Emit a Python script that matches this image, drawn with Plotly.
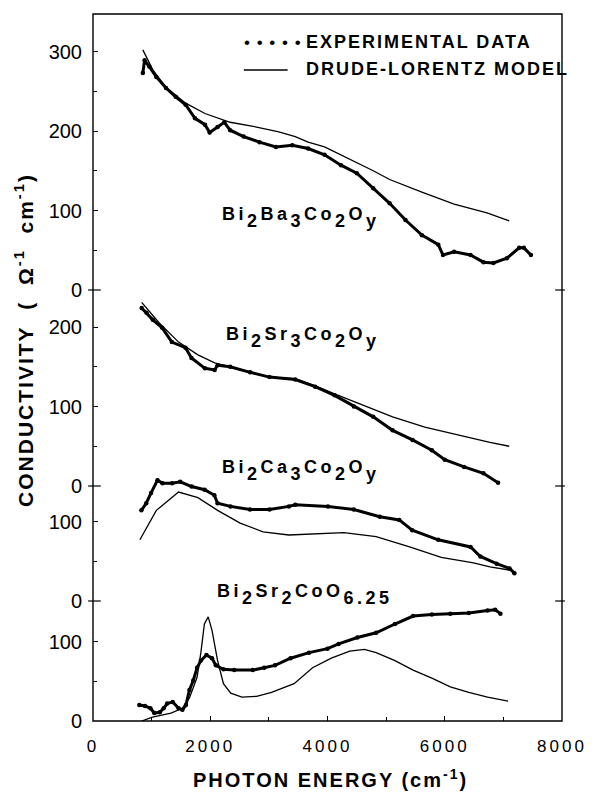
import plotly.graph_objects as go

# ---------------- data ----------------
# Panel 1: Bi2Ba3Co2Oy
ba_exp_x = [850, 880, 960, 1080, 1245, 1410, 1580, 1740, 1910, 1990, 2125, 2240, 2340, 2570, 2840, 3120,
            3400, 3670, 3950, 4230, 4500, 4780, 5060, 5330, 5610, 5890, 5970, 6160, 6440, 6660, 6830,
            7060, 7270, 7350, 7470]
ba_exp_y = [273, 289, 281, 268, 254, 243, 233, 216, 208, 198, 205, 211, 201, 193, 186, 180,
            182, 178, 170, 157, 147, 128, 109, 88, 69, 57, 44, 48, 44, 35, 34,
            40, 53, 53, 44]
ba_mod_x = [850, 1020, 1245, 1580, 1910, 2340, 2790, 3170, 3450, 3670, 3950, 4230, 4500, 4780, 5060,
            5330, 5610, 6160, 6720, 7100]
ba_mod_y = [302, 277, 255, 235, 222, 211, 205, 199, 193, 186, 180, 170, 160, 150, 139,
            131, 123, 108, 97, 87]

# Panel 2: Bi2Sr3Co2Oy
sr3_exp_x = [830, 913, 1020, 1180, 1345, 1577, 1680, 1909, 2075, 2125, 2340, 2680, 3010, 3450, 3790,
             4120, 4450, 4780, 5110, 5450, 5780, 6000, 6330, 6660, 6910]
sr3_exp_y = [224, 218, 209, 199, 181, 174, 161, 148, 146, 152, 150, 143, 137, 134, 125,
             114, 100, 87, 70, 58, 45, 33, 24, 16, 4]
sr3_mod_x = [830, 1130, 1460, 1790, 2075, 2340, 2680, 3010, 3450, 3790, 4120, 4570, 5110, 5660,
             6220, 6770, 7100]
sr3_mod_y = [231, 205, 181, 165, 155, 150, 143, 137, 135, 126, 116, 103, 87, 74,
             64, 55, 50]

# Panel 3: Bi2Ca3Co2Oy
ca_exp_x = [825, 908, 991, 1100, 1184, 1350, 1489, 1682, 1904, 2070, 2125, 2346, 2678, 3010, 3342,
            3450, 4007, 4449, 4892, 5224, 5445, 5888, 6441, 6607, 6884, 7105, 7188]
ca_exp_y = [114, 123, 136, 152, 148, 148, 150, 144, 140, 133, 123, 119, 115, 115, 119,
            121, 119, 115, 106, 102, 89, 77, 68, 56, 47, 41, 35]
ca_mod_x = [800, 1080, 1460, 1790, 2125, 2510, 2900, 3340, 4280, 4830, 5400, 5940, 6490, 6770, 7100]
ca_mod_y = [77, 114, 137, 130, 114, 98, 87, 83, 86, 81, 68, 55, 48, 43, 39]

# Panel 4: Bi2Sr2CoO6.25
sr2_exp_x = [790, 887, 980, 1045, 1140, 1205, 1265, 1360, 1460, 1525, 1585, 1645, 1710, 1775, 1840,
             1935, 2030, 2095, 2225, 2410, 2725, 2920, 3105, 3370, 3685, 4000, 4190, 4510, 4830,
             5150, 5460, 5780, 6095, 6410, 6730, 6860, 6950]
sr2_exp_y = [20, 19, 16, 10, 11, 16, 22, 24, 16, 14, 20, 39, 51, 67, 76,
             83, 79, 70, 65, 64, 64, 67, 70, 79, 86, 91, 97, 105, 111,
             122, 132, 134, 135, 136, 139, 140, 135]
sr2_mod_x = [830, 1015, 1330, 1525, 1645, 1775, 1840, 1900, 1965, 2030, 2125, 2225, 2350, 2540, 2790,
             3045, 3430, 3745, 4065, 4380, 4630, 4830, 5150, 5460, 5780, 6095, 6410, 6730, 7080]
sr2_mod_y = [0, 5, 10, 16, 29, 55, 86, 122, 131, 114, 76, 47, 35, 30, 31,
             36, 47, 67, 79, 88, 90, 86, 76, 64, 54, 43, 36, 30, 25]

# compound labels: list of (text, is_subscript)
label_ba = [("Bi", 0), ("2", 1), ("Ba", 0), ("3", 1), ("Co", 0), ("2", 1), ("O", 0), ("y", 1)]
label_sr3 = [("Bi", 0), ("2", 1), ("Sr", 0), ("3", 1), ("Co", 0), ("2", 1), ("O", 0), ("y", 1)]
label_ca = [("Bi", 0), ("2", 1), ("Ca", 0), ("3", 1), ("Co", 0), ("2", 1), ("O", 0), ("y", 1)]
label_sr2 = [("Bi", 0), ("2", 1), ("Sr", 0), ("2", 1), ("CoO", 0), ("6.25", 1)]

x_ticks = [0, 2000, 4000, 6000, 8000]
x_minor = [1000, 3000, 5000, 7000]

legend_exp = "EXPERIMENTAL DATA"
legend_mod = "DRUDE-LORENTZ MODEL"
x_title = "PHOTON ENERGY (cm<sup>-1</sup>)"
y_title = "CONDUCTIVITY&nbsp;&nbsp;( &nbsp;Ω<sup>-1</sup>&nbsp;&nbsp;cm<sup>-1</sup>)"

# ---------------- layout geometry ----------------
W, H = 599, 795
ML, MR, MT, MB = 93, 24, 14, 74
PW, PH = W - ML - MR, H - MT - MB
PX_PER_UNIT = 0.795
# (top_px, zero_px) of each panel relative to top of plot area
panels = [
    dict(name="y", top=0, zero=276, ticks=[0, 100, 200, 300], minor=[50, 150, 250],
         ex=ba_exp_x, ey=ba_exp_y, mx=ba_mod_x, my=ba_mod_y),
    dict(name="y2", top=276, zero=472, ticks=[0, 100, 200], minor=[50, 150],
         ex=sr3_exp_x, ey=sr3_exp_y, mx=sr3_mod_x, my=sr3_mod_y),
    dict(name="y3", top=452, zero=587, ticks=[0, 100], minor=[50],
         ex=ca_exp_x, ey=ca_exp_y, mx=ca_mod_x, my=ca_mod_y),
    dict(name="y4", top=587, zero=707, ticks=[0, 100], minor=[50],
         ex=sr2_exp_x, ey=sr2_exp_y, mx=sr2_mod_x, my=sr2_mod_y),
]

FONT = "Liberation Sans"
fig = go.Figure()

for p in panels:
    fig.add_trace(go.Scatter(x=p["ex"], y=p["ey"], xaxis="x", yaxis=p["name"], mode="lines+markers",
                             line=dict(color="black", width=3), marker=dict(color="black", size=4.5),
                             cliponaxis=False, showlegend=False, hoverinfo="skip"))
    fig.add_trace(go.Scatter(x=p["mx"], y=p["my"], xaxis="x", yaxis=p["name"], mode="lines",
                             line=dict(color="black", width=1.3), showlegend=False, hoverinfo="skip"))

layout = dict(
    width=W, height=H, margin=dict(l=ML, r=MR, t=MT, b=MB),
    paper_bgcolor="white", plot_bgcolor="rgba(0,0,0,0)", showlegend=False,
    font=dict(family=FONT, color="black"),
    xaxis=dict(domain=[0, 1], range=[0, 8000], anchor="y4", tickvals=x_ticks,
               ticktext=['<span style="letter-spacing:3px">%d</span>' % v for v in x_ticks],
               ticks="inside", ticklen=5, tickwidth=1.2, tickcolor="black",
               minor=dict(tickvals=x_minor, ticks="inside", ticklen=4, tickwidth=1.2, tickcolor="black"),
               showgrid=False, zeroline=False, showline=False, tickfont=dict(size=17, family=FONT),
               ticklabelstandoff=13, ticklabeloverflow="allow"),
)
for p in panels:
    key = "yaxis" if p["name"] == "y" else "yaxis" + p["name"][1:]
    bottom = 1 - p["zero"] / PH
    top = 1 - p["top"] / PH
    rng = (p["zero"] - p["top"]) / PX_PER_UNIT
    layout[key] = dict(domain=[bottom, top], range=[0, rng], anchor="x", tickvals=p["ticks"],
                       ticks="inside", ticklen=5, tickwidth=1.2, tickcolor="black",
                       minor=dict(tickvals=p["minor"], ticks="inside", ticklen=4, tickwidth=1.2,
                                  tickcolor="black"),
                       showgrid=False, zeroline=False, showline=False,
                       tickfont=dict(size=20, family=FONT), ticklabelstandoff=10)
fig.update_layout(**layout)

# frame and boundary ticks
shapes = [dict(type="rect", xref="paper", yref="paper", x0=0, x1=1, y0=0, y1=1,
               line=dict(color="black", width=1.4))]
for p in panels[:3]:
    yb = 1 - p["zero"] / PH
    shapes.append(dict(type="line", xref="paper", yref="paper", x0=-5 / PW, x1=8 / PW, y0=yb, y1=yb,
                       line=dict(color="black", width=1.2)))
    shapes.append(dict(type="line", xref="paper", yref="paper", x0=1 - 7 / PW, x1=1 + 3 / PW, y0=yb, y1=yb,
                       line=dict(color="black", width=1.2)))
# legend sample line
shapes.append(dict(type="line", xref="paper", yref="paper", x0=(248 - ML) / PW, x1=(293 - ML) / PW,
                   y0=(MT + PH - 70) / PH, y1=(MT + PH - 70) / PH, line=dict(color="black", width=1.3)))
fig.update_layout(shapes=shapes)


def formula(parts, size=18, ls=3.5):
    out = ""
    for txt, sub in parts:
        s = '<span style="font-size:%dpx;letter-spacing:%.1fpx">%s</span>' % (size, ls, txt)
        out += "<sub>%s</sub>" % s if sub else s
    return out


def px2paper(xp, yp):
    return (xp - ML) / PW, (MT + PH - yp) / PH


annotations = []
for parts, (xp, yp) in [(label_ba, (307, 217)), (label_sr3, (309, 338)),
                        (label_ca, (307, 470)), (label_sr2, (311, 594))]:
    xa, ya = px2paper(xp, yp)
    annotations.append(dict(text="<b>" + formula(parts) + "</b>", xref="paper", yref="paper", x=xa, y=ya,
                            xanchor="center", yanchor="middle", showarrow=False,
                            font=dict(family=FONT, size=33, color="black")))

xa, ya = px2paper(246, 42)
annotations.append(dict(text='<span style="letter-spacing:1px">• • • • •</span>', xref="paper", yref="paper",
                        x=xa, y=ya, xanchor="left", yanchor="middle", showarrow=False,
                        font=dict(family=FONT, size=17)))
for txt, yp in [(legend_exp, 42), (legend_mod, 69)]:
    xa, ya = px2paper(310, yp)
    annotations.append(dict(text='<b><span style="letter-spacing:2px">%s</span></b>' % txt, xref="paper",
                            yref="paper", x=xa, y=ya, xanchor="left", yanchor="middle", showarrow=False,
                            font=dict(family=FONT, size=18)))

xa, ya = px2paper(337, 778)
annotations.append(dict(text='<b><span style="letter-spacing:2px">%s</span></b>' % x_title, xref="paper",
                        yref="paper", x=xa, y=ya, xanchor="center", yanchor="middle", showarrow=False,
                        font=dict(family=FONT, size=20)))
xa, ya = px2paper(22, 340)
annotations.append(dict(text='<b><span style="letter-spacing:2px">%s</span></b>' % y_title, xref="paper",
                        yref="paper", x=xa, y=ya, xanchor="center", yanchor="middle", textangle=-90,
                        showarrow=False, font=dict(family=FONT, size=21)))
fig.update_layout(annotations=annotations)

fig.write_html("out.html")
